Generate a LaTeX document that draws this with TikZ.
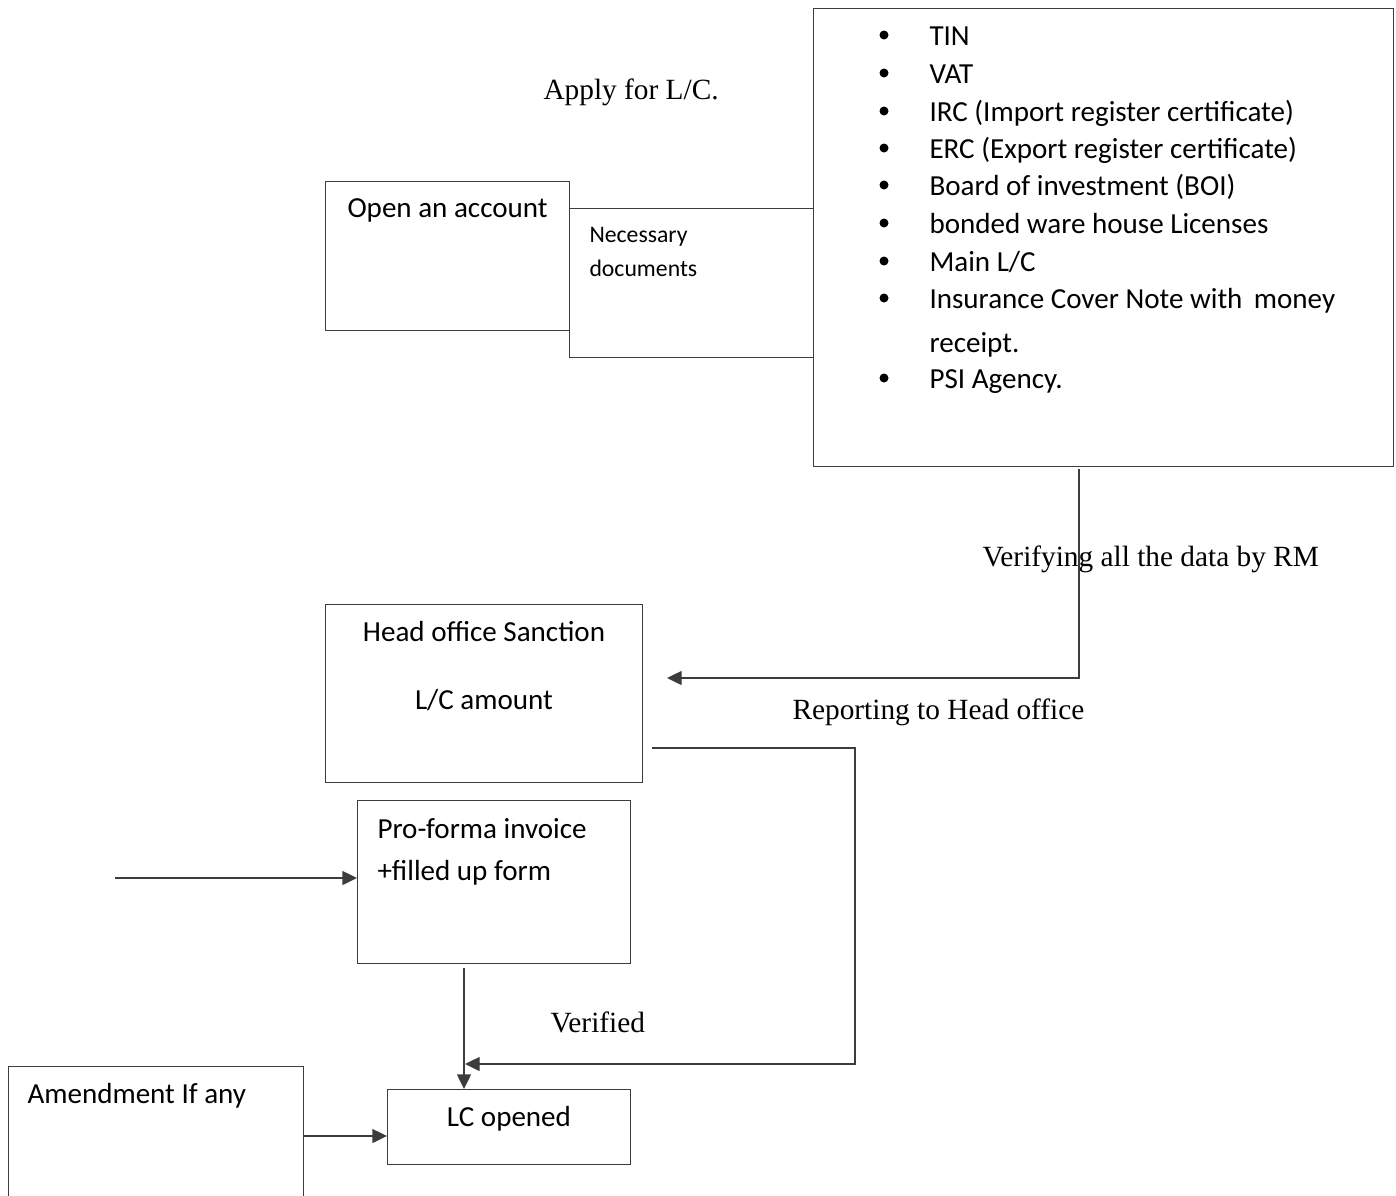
\documentclass[tikz,border=0pt]{standalone}
\usepackage{fontspec}
\setmainfont{Liberation Serif}
\newfontfamily\calib{Carlito}
\usetikzlibrary{arrows.meta}

\tikzset{every picture/.style={line width=0.75pt}}
\tikzset{
	box/.style={draw={rgb,255:red,60;green,60;blue,60}, line width=1pt, inner sep=0pt, anchor=north west},
	link/.style={draw={rgb,255:red,60;green,60;blue,60}, line width=1pt},
	tip/.style={-{Triangle[length=11pt,width=10.5pt]}},
	sanstxt/.style={inner sep=0pt, anchor=base west, font=\calib\fontsize{21.8}{26}\selectfont},
	smalltxt/.style={inner sep=0pt, anchor=base west, font=\calib\fontsize{17.8}{22}\selectfont},
	seriftxt/.style={inner sep=0pt, anchor=base west, font=\fontsize{22}{26}\selectfont}
}

\begin{document}
\begin{tikzpicture}[x=0.75pt,y=0.75pt,yscale=-1,xscale=1]
	\useasboundingbox (0,0) rectangle (1396,1196);

	% Boxes
	\node[box, minimum width=183pt, minimum height=111.75pt] (acct) at (325,181) {};
	\node[box, minimum width=183pt, minimum height=111.75pt] (docs) at (569,208) {};
	\node[box, minimum width=435pt, minimum height=343.5pt] (list) at (813,8) {};
	\node[box, minimum width=237.75pt, minimum height=133.5pt] (head) at (325,604) {};
	\node[box, minimum width=204.75pt, minimum height=122.25pt] (invoice) at (357,800) {};
	\node[box, minimum width=182.25pt, minimum height=56.25pt] (opened) at (387,1089) {};
	\node[box, minimum width=221.25pt, minimum height=105pt] (amend) at (8,1066) {};

	% Box texts
	\node[sanstxt] (acctT) at (347,217) {Open an account};
	\node[smalltxt] (docsA) at (589,242) {Necessary};
	\node[smalltxt] (docsB) at (589,276) {documents};
	\node[sanstxt, anchor=base] (headA) at (484,641) {Head office Sanction};
	\node[sanstxt, anchor=base] (headB) at (484,709) {L/C amount};
	\node[sanstxt] (invA) at (377,838) {Pro-forma invoice};
	\node[sanstxt] (invB) at (377,880) {+filled up form};
	\node[sanstxt, anchor=base] (openedT) at (509,1126) {LC opened};
	\node[sanstxt] (amendT) at (27,1103) {Amendment If any};

	% Bullet list
	\foreach \y/\t in {45/TIN, 83/VAT, 121/{IRC (Import register certificate)}, 158/{ERC (Export register certificate)}, 195/{Board of investment (BOI)}, 233/{bonded ware house Licenses}, 271/{Main L/C}, 308/{Insurance Cover Note with\,\ money}, 388/{PSI Agency.}}{
		\fill (884,\y-10) circle (4.5);
		\node[sanstxt] at (929,\y) {\t};
	}
	\node[sanstxt] (receipt) at (929,352) {receipt.};

	% Labels
	\node[seriftxt] (apply) at (543,99) {Apply for L/C.};
	\node[seriftxt] (verify) at (982,566) {Verifying all the data by RM};
	\node[seriftxt] (report) at (792,719) {Reporting to Head office};
	\node[seriftxt] (verified) at (550,1032) {Verified};

	% Connectors
	\coordinate (vtop) at (1079,469);
	\coordinate (vtip) at (667,678);
	\draw[link, tip] (vtop) |- (vtip);

	\coordinate (rstart) at (652,748);
	\coordinate (rcorner) at (855,1064);
	\coordinate (rtip) at (465,1064);
	\draw[link, tip] (rstart) -| (rcorner) -- (rtip);

	\coordinate (instart) at (115,878);
	\draw[link, tip] (instart) -- (invoice.west |- instart);

	\coordinate (dtop) at (464,968);
	\draw[link, tip] (dtop) -- (dtop |- opened.north);

	\draw[link, tip] (amend.east |- 0,1136) -- (opened.west |- 0,1136);
\end{tikzpicture}
\end{document}
